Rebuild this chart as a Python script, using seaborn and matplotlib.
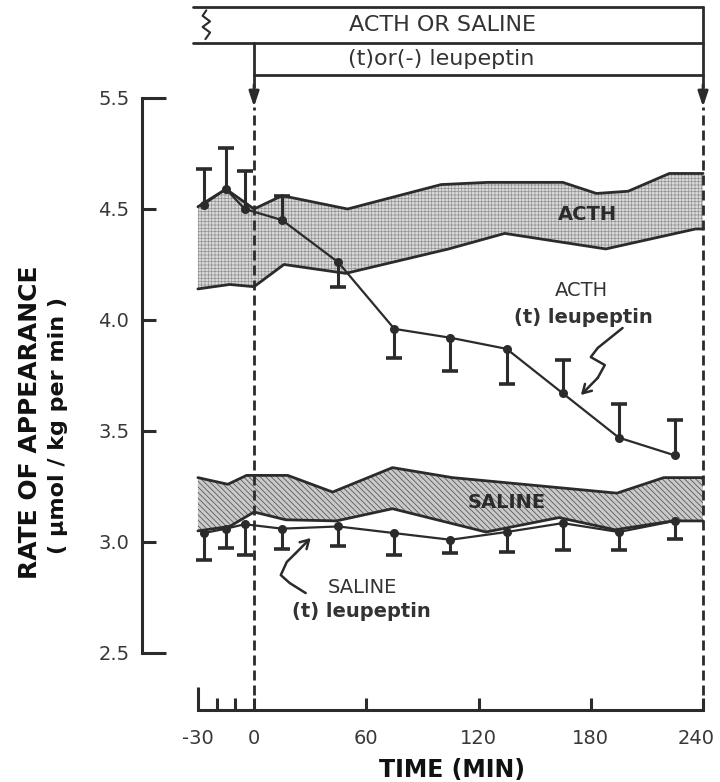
import numpy as np
import matplotlib
matplotlib.use("Agg")
import matplotlib.pyplot as plt
import matplotlib.transforms as mtransforms
import seaborn as sns

sns.set_style("white")
plt.rcParams['font.family'] = ['DejaVu Sans']
plt.rcParams['hatch.linewidth'] = 0.5

ink = '#2b2b2b'

# sampling times (min)
times = [-27, -15, -5, 15, 45, 75, 105, 135, 165, 195, 225]

# ACTH (+) leupeptin: mean and one-sided SE
acth_leu = [4.52, 4.59, 4.50, 4.45, 4.26, 3.96, 3.92, 3.87, 3.67, 3.47, 3.39]
acth_err_up = [0.16, 0.185, 0.17, 0.11, 0, 0, 0, 0, 0.15, 0.15, 0.16]
acth_err_dn = [0, 0, 0, 0, 0.11, 0.13, 0.15, 0.16, 0, 0, 0]

# SALINE (+) leupeptin: mean and SE (drawn downwards)
sal_leu = [3.04, 3.06, 3.08, 3.06, 3.07, 3.04, 3.01, 3.045, 3.085, 3.045, 3.095]
sal_err_dn = [0.12, 0.085, 0.14, 0.09, 0.09, 0.10, 0.06, 0.09, 0.12, 0.08, 0.08]

# ACTH alone band (mean +/- SE envelope)
acth_band_up_t = [-30, -15, 0, 15, 50, 100, 125, 165, 183, 200, 222, 240]
acth_band_up = [4.51, 4.59, 4.50, 4.56, 4.50, 4.61, 4.62, 4.62, 4.57, 4.58, 4.66, 4.66]
acth_band_lo_t = [-30, -13, 0, 16, 49, 104, 134, 188, 236, 240]
acth_band_lo = [4.14, 4.16, 4.15, 4.25, 4.21, 4.32, 4.39, 4.32, 4.41, 4.41]

# SALINE alone band
sal_band_up_t = [-30, -14, -4, 18, 42, 74, 106, 194, 219, 240]
sal_band_up = [3.29, 3.26, 3.30, 3.30, 3.225, 3.335, 3.29, 3.22, 3.29, 3.29]
sal_band_lo_t = [-30, -13, 0, 17, 44, 74, 124, 163, 193, 224, 240]
sal_band_lo = [3.05, 3.07, 3.135, 3.10, 3.095, 3.15, 3.045, 3.11, 3.055, 3.095, 3.095]

x_ticks = [-30, 0, 60, 120, 180, 240]
x_minor = [-20, -10]
y_ticks = [2.5, 3.0, 3.5, 4.0, 4.5, 5.0]
y_labels = ['2.5', '3.0', '3.5', '4.0', '4.5', '5.5']

fig = plt.figure(figsize=(7.2, 7.82), dpi=100)
ax = fig.add_axes([130 / 720, 67 / 782, 585 / 720, 715 / 782])
ax.set_xlim(-66.3, 246.4)
ax.set_ylim(2.2207, 5.4414)

# bands
ax.fill(np.r_[acth_band_up_t, acth_band_lo_t[::-1]], np.r_[acth_band_up, acth_band_lo[::-1]],
        facecolor='#d9d9d9', edgecolor='#939393', hatch='+++++', linewidth=0, zorder=1)
ax.fill(np.r_[sal_band_up_t, sal_band_lo_t[::-1]], np.r_[sal_band_up, sal_band_lo[::-1]],
        facecolor='#c9c9c9', edgecolor='#474747', hatch='\\\\\\\\\\\\', linewidth=0, zorder=1)
for bx, by in [(acth_band_up_t, acth_band_up), (acth_band_lo_t, acth_band_lo),
               (sal_band_up_t, sal_band_up), (sal_band_lo_t, sal_band_lo)]:
    ax.plot(bx, by, color=ink, lw=2, zorder=2, solid_joinstyle='round')

# data lines
sns.lineplot(x=times, y=acth_leu, ax=ax, color=ink, lw=1.6, marker='o', ms=6.5,
             markeredgewidth=0, zorder=4)
sns.lineplot(x=times, y=sal_leu, ax=ax, color=ink, lw=1.6, marker='o', ms=6.5,
             markeredgewidth=0, zorder=4)

# one-sided error bars
t = np.array(times)
a = np.array(acth_leu)
up = np.array(acth_err_up)
dn = np.array(acth_err_dn)
m = up > 0
ax.vlines(t[m], a[m], a[m] + up[m], color=ink, lw=2.2, zorder=3)
ax.plot(t[m], a[m] + up[m], ls='none', marker='_', ms=11, mew=2.6, color=ink, zorder=3)
m = dn > 0
ax.vlines(t[m], a[m] - dn[m], a[m], color=ink, lw=2.2, zorder=3)
ax.plot(t[m], a[m] - dn[m], ls='none', marker='_', ms=11, mew=2.6, color=ink, zorder=3)
s = np.array(sal_leu)
sd = np.array(sal_err_dn)
ax.vlines(t, s - sd, s, color=ink, lw=2.2, zorder=3)
ax.plot(t, s - sd, ls='none', marker='_', ms=11, mew=2.6, color=ink, zorder=3)

# spines and ticks
sns.despine(ax=ax)
ax.spines['left'].set_position(('data', -60))
ax.spines['left'].set_bounds(2.5, 5.0)
ax.spines['bottom'].set_position(('data', 2.243))
ax.spines['bottom'].set_bounds(-30, 240)
for sp in ['left', 'bottom']:
    ax.spines[sp].set_linewidth(2.2)
    ax.spines[sp].set_color(ink)

ax.set_yticks(y_ticks)
ax.set_yticklabels(y_labels)
ax.set_xticks(x_ticks)
ax.set_xticklabels([str(v) for v in x_ticks])
ax.set_xticks(x_minor, minor=True)
ax.tick_params(axis='y', left=True, direction='in', length=10, width=2.2, color=ink, pad=9,
               labelsize=14, labelcolor='#383838')
ax.tick_params(axis='x', which='both', bottom=True, direction='in', length=8.6, width=2.2,
               color=ink, pad=14, labelsize=14, labelcolor='#383838')
ytk = ax.yaxis.get_major_ticks()
ytk[0].tick1line.set_markersize(17)
ytk[-1].tick1line.set_markersize(17)
ax.xaxis.get_major_ticks()[0].tick1line.set_markersize(16.5)
last = ax.get_xticklabels()[-1]
last.set_transform(last.get_transform() + mtransforms.ScaledTranslation(-5 / 72, 0, fig.dpi_scale_trans))

# treatment bars at the top
ax.plot([-32.5, 240], [5.41, 5.41], color=ink, lw=2)
ax.plot([-32.5, 240], [5.248, 5.248], color=ink, lw=2)
ax.plot([0, 240], [5.104, 5.104], color=ink, lw=2)
ax.plot([-25.5, -27.5, -23.5, -27.5, -23.5, -26], [5.395, 5.37, 5.345, 5.32, 5.295, 5.265],
        color=ink, lw=1.5)
ax.plot([0, 0], [5.248, 5.05], color=ink, lw=2)
ax.plot([240, 240], [5.41, 5.05], color=ink, lw=2)
for xv in [0, 240]:
    ax.annotate('', xy=(xv, 4.96), xytext=(xv, 5.06),
                arrowprops=dict(arrowstyle='-|>,head_length=0.9,head_width=0.3',
                                color=ink, lw=2, shrinkA=0, shrinkB=0))
    ax.plot([xv, xv], [2.243, 4.96], color=ink, lw=2, ls=(0, (3.6, 1.8)), zorder=5)

ax.text(101, 5.329, 'ACTH OR SALINE', ha='center', va='center', fontsize=16, color='#333')
ax.text(100, 5.176, '(t)or(-) leupeptin', ha='center', va='center', fontsize=16, color='#333')

# labels inside plot
ax.text(178, 4.473, 'ACTH', ha='center', va='center', fontsize=14, fontweight='heavy', color=ink, zorder=6)
ax.text(135, 3.176, 'SALINE', ha='center', va='center', fontsize=14, fontweight='heavy', color=ink, zorder=6)
ax.text(175, 4.135, 'ACTH', ha='center', va='center', fontsize=14, color='#333')
ax.text(176, 4.009, '(t) leupeptin', ha='center', va='center', fontsize=14, fontweight='bold', color='#333')
ax.text(57.7, 2.793, 'SALINE', ha='center', va='center', fontsize=14, color='#333')
ax.text(57.2, 2.685, '(t) leupeptin', ha='center', va='center', fontsize=14, fontweight='bold', color='#333')

# squiggly pointers
ax.plot([197.0, 183.7, 180.0, 187.5, 183.7], [3.964, 3.874, 3.833, 3.797, 3.739], color=ink, lw=1.8)
ax.annotate('', xy=(174.7, 3.662), xytext=(183.7, 3.739),
            arrowprops=dict(arrowstyle='->,head_length=0.6,head_width=0.35',
                            color=ink, lw=1.8, shrinkA=0, shrinkB=0))
ax.plot([27.6, 19.1, 14.3, 17.5, 22.3], [2.770, 2.815, 2.851, 2.910, 2.950], color=ink, lw=1.8)
ax.annotate('', xy=(30.3, 3.018), xytext=(22.3, 2.950),
            arrowprops=dict(arrowstyle='->,head_length=0.6,head_width=0.35',
                            color=ink, lw=1.8, shrinkA=0, shrinkB=0))

# axis titles
fig.text(30 / 720, 1 - 422 / 782, 'RATE OF APPEARANCE', rotation=90, ha='center', va='center',
         fontsize=18, fontweight='heavy', color='#111')
fig.text(58 / 720, 1 - 425 / 782, '( µmol / kg per min )', rotation=90, ha='center', va='center',
         fontsize=16, fontweight='bold', color='#111')
fig.text(452 / 720, 1 - 770 / 782, 'TIME (MIN)', ha='center', va='center',
         fontsize=17, fontweight='heavy', color='#111')

fig.savefig('out.png', dpi=100)
